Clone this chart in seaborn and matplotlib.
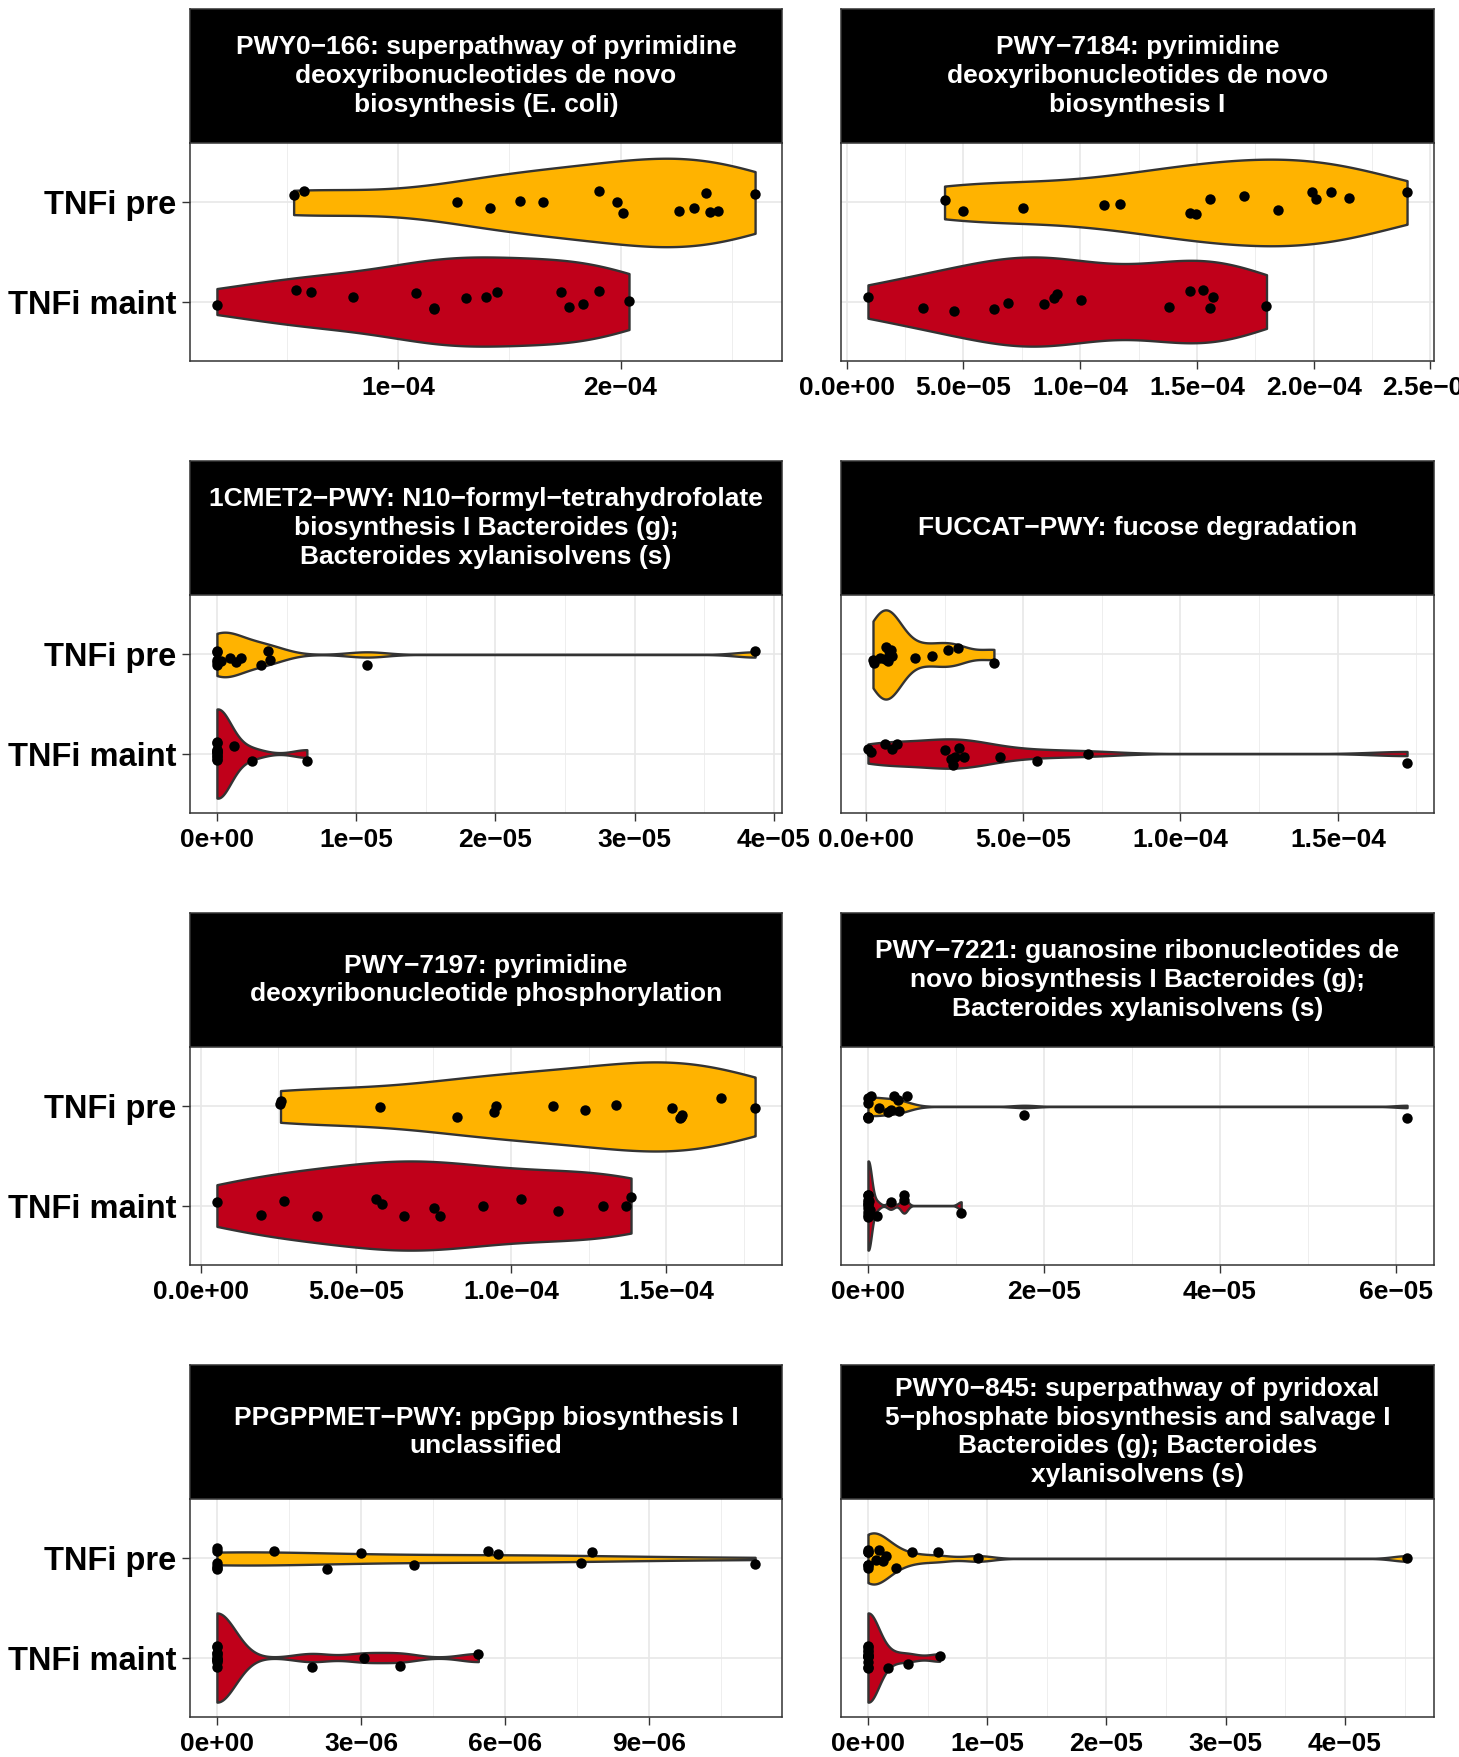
import numpy as np
import pandas as pd
import seaborn as sns
import matplotlib.pyplot as plt
from matplotlib.ticker import MultipleLocator

plt.rcParams['font.family'] = ['Liberation Sans', 'DejaVu Sans']
plt.rcParams['font.weight'] = 'bold'

# groups and fill colours
groups = ['TNFi pre', 'TNFi maint']
colors = {'TNFi pre': '#FFB300', 'TNFi maint': '#C0001A'}

# facet titles (wrapped like the original strips)
titles = [
    'PWY0\u2212166: superpathway of pyrimidine\ndeoxyribonucleotides de novo\nbiosynthesis (E. coli)',
    'PWY\u22127184: pyrimidine\ndeoxyribonucleotides de novo\nbiosynthesis I',
    '1CMET2\u2212PWY: N10\u2212formyl\u2212tetrahydrofolate\nbiosynthesis I Bacteroides (g);\nBacteroides xylanisolvens (s)',
    'FUCCAT\u2212PWY: fucose degradation',
    'PWY\u22127197: pyrimidine\ndeoxyribonucleotide phosphorylation',
    'PWY\u22127221: guanosine ribonucleotides de\nnovo biosynthesis I Bacteroides (g);\nBacteroides xylanisolvens (s)',
    'PPGPPMET\u2212PWY: ppGpp biosynthesis I\nunclassified',
    'PWY0\u2212845: superpathway of pyridoxal\n5\u2212phosphate biosynthesis and salvage I\nBacteroides (g); Bacteroides\nxylanisolvens (s)',
]

# relative abundances
pwy0_166_pre = [5.30e-5, 5.78e-5, 1.266e-4, 1.411e-4, 1.549e-4, 1.652e-4, 1.905e-4, 1.982e-4,
                2.011e-4, 2.262e-4, 2.330e-4, 2.384e-4, 2.404e-4, 2.438e-4, 2.605e-4]
pwy0_166_maint = [1.85e-5, 5.42e-5, 6.07e-5, 7.95e-5, 1.079e-4, 1.160e-4, 1.163e-4, 1.307e-4,
                  1.397e-4, 1.445e-4, 1.734e-4, 1.767e-4, 1.831e-4, 1.905e-4, 2.038e-4]

pwy_7184_pre = [4.19e-5, 4.98e-5, 7.54e-5, 1.100e-4, 1.169e-4, 1.470e-4, 1.496e-4, 1.554e-4,
                1.700e-4, 1.846e-4, 1.991e-4, 2.009e-4, 2.074e-4, 2.150e-4, 2.400e-4]
pwy_7184_maint = [9.1e-6, 3.26e-5, 4.61e-5, 6.33e-5, 6.91e-5, 8.43e-5, 8.87e-5, 9.02e-5,
                  1.004e-4, 1.380e-4, 1.469e-4, 1.526e-4, 1.556e-4, 1.570e-4, 1.798e-4]

cmet2_pre = [0, 0, 0, 0, 0, 3.0e-7, 9.5e-7, 1.39e-6, 1.72e-6, 3.14e-6, 3.69e-6, 3.80e-6,
             1.077e-5, 3.865e-5]
cmet2_maint = [0, 0, 0, 0, 0, 0, 0, 0, 0, 0, 0, 1.2e-6, 2.55e-6, 6.46e-6]

fuccat_pre = [2.27e-6, 2.67e-6, 4.4e-6, 6.0e-6, 6.4e-6, 6.93e-6, 7.2e-6, 7.6e-6, 8.0e-6,
              8.27e-6, 1.56e-5, 2.09e-5, 2.6e-5, 2.92e-5, 4.07e-5]
fuccat_maint = [6.7e-7, 1.73e-6, 6.13e-6, 8.4e-6, 9.87e-6, 2.52e-5, 2.71e-5, 2.76e-5, 2.84e-5,
                2.97e-5, 3.13e-5, 4.27e-5, 5.44e-5, 7.07e-5, 1.72e-4]

pwy_7197_pre = [2.57e-5, 2.59e-5, 5.79e-5, 8.25e-5, 9.44e-5, 9.51e-5, 1.134e-4, 1.239e-4,
                1.339e-4, 1.518e-4, 1.544e-4, 1.548e-4, 1.551e-4, 1.677e-4, 1.787e-4]
pwy_7197_maint = [5.2e-6, 1.93e-5, 2.69e-5, 3.74e-5, 5.64e-5, 5.84e-5, 6.54e-5, 7.51e-5,
                  7.70e-5, 9.10e-5, 1.033e-4, 1.152e-4, 1.298e-4, 1.370e-4, 1.387e-4]

pwy_7221_pre = [0, 0, 0, 0, 0, 3.8e-7, 1.29e-6, 2.29e-6, 2.58e-6, 2.91e-6, 3.39e-6, 3.58e-6,
                4.44e-6, 1.78e-5, 6.13e-5]
pwy_7221_maint = [0, 0, 0, 0, 0, 0, 0, 0, 0, 5e-8, 1e-7, 2e-7, 1.0e-6, 2.58e-6, 4.1e-6,
                  4.1e-6, 1.06e-5]

ppgppmet_pre = [0, 0, 0, 0, 0, 0, 1.19e-6, 2.30e-6, 3.0e-6, 4.11e-6, 5.65e-6, 5.85e-6,
                7.58e-6, 7.80e-6, 1.12e-5]
ppgppmet_maint = [0, 0, 0, 0, 0, 0, 0, 0, 0, 0, 0, 1.97e-6, 3.06e-6, 3.8e-6, 5.44e-6]

pwy0_845_pre = [0, 0, 0, 0, 0, 0, 7.0e-7, 9.5e-7, 1.3e-6, 1.55e-6, 2.39e-6, 3.73e-6,
                5.87e-6, 9.24e-6, 4.52e-5]
pwy0_845_maint = [0, 0, 0, 0, 0, 0, 0, 0, 0, 0, 0, 0, 1.69e-6, 3.34e-6, 6.01e-6]

pre_values = [pwy0_166_pre, pwy_7184_pre, cmet2_pre, fuccat_pre,
              pwy_7197_pre, pwy_7221_pre, ppgppmet_pre, pwy0_845_pre]
maint_values = [pwy0_166_maint, pwy_7184_maint, cmet2_maint, fuccat_maint,
                pwy_7197_maint, pwy_7221_maint, ppgppmet_maint, pwy0_845_maint]

# x breaks and their labels per facet
x_ticks = [
    [1e-4, 2e-4],
    [0, 5e-5, 1e-4, 1.5e-4, 2e-4, 2.5e-4],
    [0, 1e-5, 2e-5, 3e-5, 4e-5],
    [0, 5e-5, 1e-4, 1.5e-4],
    [0, 5e-5, 1e-4, 1.5e-4],
    [0, 2e-5, 4e-5, 6e-5],
    [0, 3e-6, 6e-6, 9e-6],
    [0, 1e-5, 2e-5, 3e-5, 4e-5],
]
x_labels = [
    ['1e\u221204', '2e\u221204'],
    ['0.0e+00', '5.0e\u221205', '1.0e\u221204', '1.5e\u221204', '2.0e\u221204', '2.5e\u221204'],
    ['0e+00', '1e\u221205', '2e\u221205', '3e\u221205', '4e\u221205'],
    ['0.0e+00', '5.0e\u221205', '1.0e\u221204', '1.5e\u221204'],
    ['0.0e+00', '5.0e\u221205', '1.0e\u221204', '1.5e\u221204'],
    ['0e+00', '2e\u221205', '4e\u221205', '6e\u221205'],
    ['0e+00', '3e\u221206', '6e\u221206', '9e\u221206'],
    ['0e+00', '1e\u221205', '2e\u221205', '3e\u221205', '4e\u221205'],
]


# R's bw.nrd0 rule, as a bandwidth factor for the kde
def nrd0(kde):
    x = kde.dataset[0]
    sd = x.std(ddof=1)
    q75, q25 = np.percentile(x, [75, 25])
    lo = min(sd, (q75 - q25) / 1.34)
    if lo == 0:
        lo = sd or abs(x[0]) or 1
    return 0.9 * lo * len(x) ** -0.2 / sd


W, H = 1459, 1757
fig = plt.figure(figsize=(W / 100, H / 100), dpi=100)
np.random.seed(11)

for i in range(8):
    r, c = divmod(i, 2)
    x0, w = (190, 592) if c == 0 else (841, 593)
    top = 9 + r * 452

    strip = fig.add_axes([x0 / W, 1 - (top + 134) / H, w / W, 134 / H])
    strip.set_facecolor('black')
    strip.set_xticks([])
    strip.set_yticks([])
    for sp in strip.spines.values():
        sp.set_color('#333333')
        sp.set_linewidth(1.1)
    strip.text(0.5, 0.5, titles[i], ha='center', va='center', color='white',
               fontsize=19, fontweight='bold', linespacing=1.25, transform=strip.transAxes)

    ax = fig.add_axes([x0 / W, 1 - (top + 352) / H, w / W, 218 / H])
    pre, maint = pre_values[i], maint_values[i]
    df = pd.DataFrame({'value': pre + maint,
                       'group': ['TNFi pre'] * len(pre) + ['TNFi maint'] * len(maint)})

    sns.violinplot(data=df, x='value', y='group', hue='group', order=groups, hue_order=groups,
                   palette=colors, saturation=1, orient='h', cut=0, inner=None, width=0.9,
                   bw_method=nrd0, density_norm='area', common_norm=True, gridsize=512,
                   linecolor='#333333', linewidth=1.7, legend=False, ax=ax)
    sns.stripplot(data=df, x='value', y='group', order=groups, orient='h', color='black',
                  size=7.5, jitter=0.12, ax=ax)

    lo, hi = min(df['value']), max(df['value'])
    pad = 0.05 * (hi - lo)
    ax.set_xlim(lo - pad, hi + pad)
    ax.set_ylim(1.6, -0.6)
    ax.set_xticks(x_ticks[i], x_labels[i])
    ax.xaxis.set_minor_locator(MultipleLocator((x_ticks[i][1] - x_ticks[i][0]) / 2))
    ax.grid(which='major', color='#E8E8E8', linewidth=1.2)
    ax.grid(which='minor', axis='x', color='#EBEBEB', linewidth=0.6)
    ax.set_axisbelow(True)
    ax.set_xlabel('')
    ax.set_ylabel('')
    ax.tick_params(axis='x', which='major', length=5.8, width=1.0, color='#333333',
                   labelsize=19, pad=5, labelcolor='black')
    ax.tick_params(axis='x', which='minor', length=0)
    if c == 0:
        ax.tick_params(axis='y', length=5.8, width=1.0, color='#333333', labelsize=23.5,
                       pad=4, labelcolor='black')
    else:
        ax.tick_params(axis='y', length=0, labelleft=False)
    for sp in ax.spines.values():
        sp.set_color('#333333')
        sp.set_linewidth(1.1)

fig.savefig('out.png', dpi=100)
